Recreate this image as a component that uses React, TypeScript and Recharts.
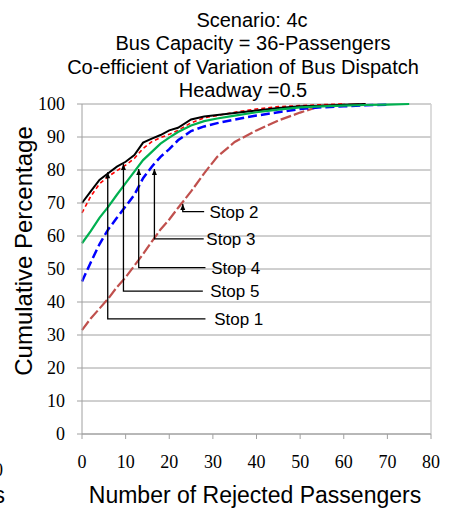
import { LineChart, Line, XAxis, YAxis, CartesianGrid, ReferenceLine, ReferenceDot, Customized } from 'recharts';

// x = number of rejected passengers
const xs = [0, 2, 4, 6, 8, 10, 12, 14, 16, 18, 20, 22, 25, 28, 31, 35, 40, 45, 50, 55, 60, 65, 70, 75];

const stop1 = [70, 73.5, 77, 79, 81, 82.5, 84.5, 88.3, 89.5, 90.6, 92, 92.8, 95.3, 96.2, 96.7, 97.3, 98, 98.8, 99.3, 99.5, 99.8, 100, null, null];
const stop2 = [31.5, 35, 38, 41, 44.5, 47.5, 51, 54.5, 58.3, 62, 65, 68.5, 73.5, 79, 84, 88.5, 92, 95, 97.4, 99.5, 99.8, 100, null, null];
const stop3 = [46.2, 52, 57.5, 62, 65.5, 69, 72.5, 77.5, 81, 84, 86.3, 89, 91.8, 93.2, 94.2, 95.3, 96.5, 97.5, 98.5, 99, 99.3, 99.6, 99.8, null];
const stop4 = [57.8, 61.5, 65.5, 68.8, 72.5, 76, 79.5, 83, 85.5, 88, 89.8, 91.5, 93.5, 94.8, 95.6, 96.5, 97.5, 98.3, 99, 99.3, 99.5, 99.7, 99.8, 100];
const stop5 = [67, 72, 75.8, 78, 79.8, 81.5, 83.5, 86.5, 88.6, 89.8, 90.8, 92, 94.3, 95.8, 96.5, 97.5, 98.5, 99.2, 99.5, 99.8, 100, null, null, null];

const xTicks = [0, 10, 20, 30, 40, 50, 60, 70, 80];
const yTicks = [0, 10, 20, 30, 40, 50, 60, 70, 80, 90, 100];

const titleLines = ['Scenario: 4c', 'Bus Capacity = 36-Passengers', 'Co-efficient of Variation of Bus Dispatch', 'Headway =0.5'];

// callout arrows, in data units
const annoNames = ['Stop 1', 'Stop 5', 'Stop 4', 'Stop 3', 'Stop 2'];
const annoX = [5.9, 9.5, 13, 16.6, 23.1];
const annoTip = [79.3, 81.8, 80.3, 80.3, 69.7];
const annoElbow = [34.9, 43.3, 50.4, 59.1, 67.4];
const annoEnd = [28.3, 27.7, 28.3, 27.9, 28];
const annoLabelX = [30.3, 29.4, 29.6, 28.5, 29.2];

const SERIF = 'Liberation Serif, DejaVu Serif, serif';
const SANS = 'Liberation Sans, Arial, sans-serif';

const toRows = (vals: (number | null)[]) =>
  xs.map((x, i) => ({ x, y: vals[i] })).filter((r) => r.y !== null);

const series = [
  { name: 'Stop 2', vals: stop2, color: '#C0504D', width: 2.2, dash: '11 3' },
  { name: 'Stop 3', vals: stop3, color: '#0000FF', width: 2.5, dash: '9 4' },
  { name: 'Stop 5', vals: stop5, color: '#FF0000', width: 1.6, dash: '4 3' },
  { name: 'Stop 1', vals: stop1, color: '#000000', width: 2, dash: undefined },
  { name: 'Stop 4', vals: stop4, color: '#00B050', width: 2.2, dash: undefined },
];

const arrowDot = (last: number) => (p: any) => {
  if (p.index !== last) return <g key={`d${p.index}`} />;
  const { cx, cy } = p;
  return <path key={`d${p.index}`} d={`M${cx},${cy} L${cx - 2.5},${cy + 6} L${cx + 2.5},${cy + 6} Z`} fill="#000" />;
};

const XTick = (p: any) => (
  <text x={p.x} y={p.y} dy={13} textAnchor="middle" fill="#000" style={{ fontFamily: SERIF, fontSize: 18 }}>
    {p.payload.value}
  </text>
);

const YTick = (p: any) => (
  <text x={p.x} y={p.y} dy={6} textAnchor="end" fill="#000" style={{ fontFamily: SERIF, fontSize: 18 }}>
    {p.payload.value}
  </text>
);

const Texts = () => (
  <g fill="#000" style={{ fontFamily: SANS }}>
    <text x={252} y={27} fontSize={20} textAnchor="middle">{titleLines[0]}</text>
    <text x={253} y={50} fontSize={20} textAnchor="middle">{titleLines[1]}</text>
    <text x={243} y={74} fontSize={20} textAnchor="middle">{titleLines[2]}</text>
    <text x={243} y={97} fontSize={20} textAnchor="middle">{titleLines[3]}</text>
    <text transform="translate(32, 251) rotate(-90)" fontSize={24} textAnchor="middle">Cumulative Percentage</text>
    <text x={255} y={503} fontSize={23} textAnchor="middle">Number of Rejected Passengers</text>
    <text x={3} y={476} textAnchor="end" style={{ fontFamily: SERIF, fontSize: 18 }}>0</text>
    <text x={5} y={503} fontSize={23} textAnchor="end">s</text>
  </g>
);

export default function App() {
  return (
    <div style={{ position: 'absolute', left: 0, top: 0, width: 454, height: 509, background: '#fff' }}>
      <LineChart width={454} height={509} margin={{ top: 104, right: 23, bottom: 0, left: 0 }}>
        <CartesianGrid horizontal vertical={false} stroke="#A0A0A0" strokeWidth={1} />
        <XAxis
          type="number"
          dataKey="x"
          domain={[0, 80]}
          ticks={xTicks}
          height={75}
          tickSize={5}
          tickMargin={16}
          stroke="#A0A0A0"
          tick={XTick}
          allowDuplicatedCategory={false}
        />
        <YAxis
          type="number"
          domain={[0, 100]}
          ticks={yTicks}
          width={82}
          tickSize={5}
          tickMargin={12}
          stroke="#A0A0A0"
          tick={YTick}
        />
        <ReferenceLine x={80} stroke="#D0D0D0" strokeWidth={1.5} />
        {series.map((s) => (
          <Line
            key={s.name}
            data={toRows(s.vals)}
            dataKey="y"
            name={s.name}
            stroke={s.color}
            strokeWidth={s.width}
            strokeDasharray={s.dash}
            dot={false}
            isAnimationActive={false}
          />
        ))}
        {annoNames.map((n, i) => (
          <Line
            key={`a-${n}`}
            data={[
              { x: annoEnd[i], y: annoElbow[i] },
              { x: annoX[i], y: annoElbow[i] },
              { x: annoX[i], y: annoTip[i] },
            ]}
            dataKey="y"
            stroke="#000"
            strokeWidth={1.3}
            dot={arrowDot(2)}
            activeDot={false}
            isAnimationActive={false}
          />
        ))}
        {annoNames.map((n, i) => (
          <ReferenceDot
            key={`l-${n}`}
            x={annoLabelX[i]}
            y={annoElbow[i]}
            r={0}
            shape={(p: any) => (
              <text x={p.cx} y={p.cy} dy="0.35em" fontSize={17} fill="#000" style={{ fontFamily: SANS }}>
                {n}
              </text>
            )}
          />
        ))}
        <Customized component={Texts} />
      </LineChart>
    </div>
  );
}
